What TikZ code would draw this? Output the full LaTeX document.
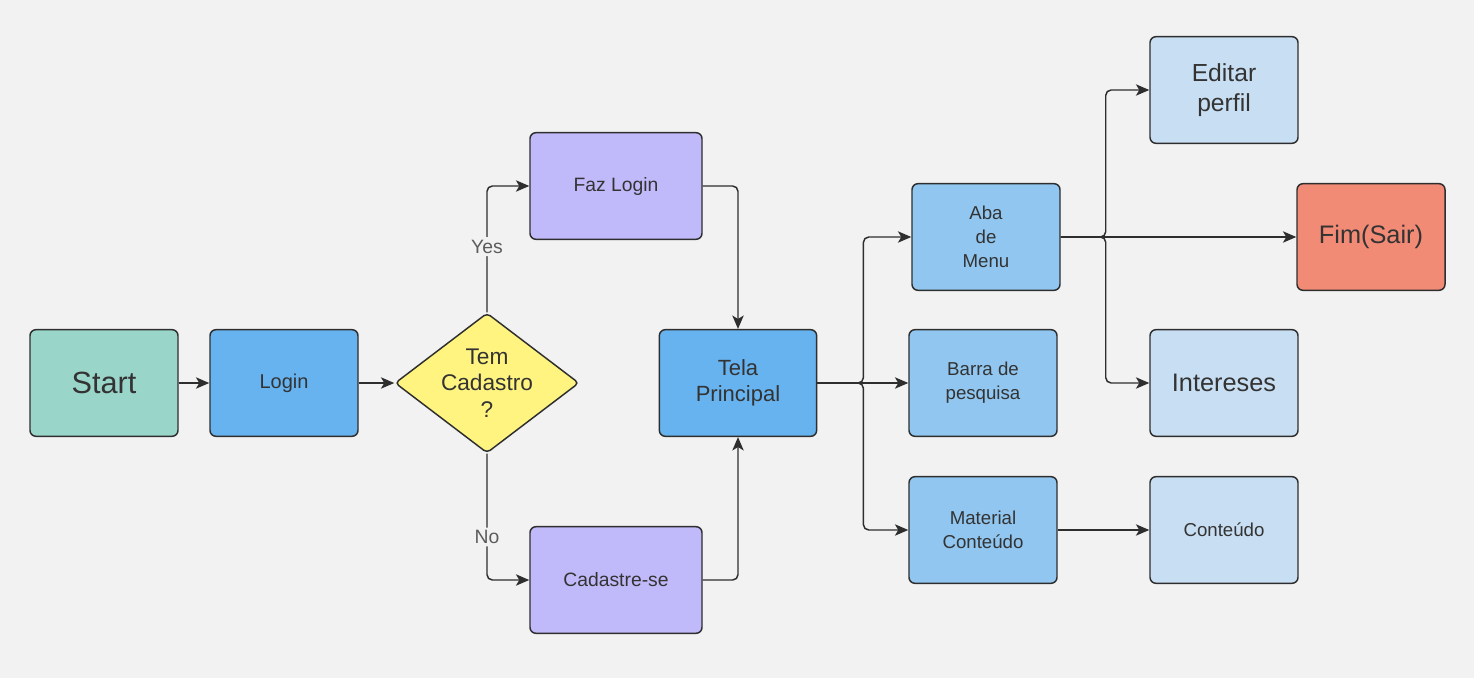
\documentclass[tikz,border=0pt]{standalone}
\usepackage{fontspec}
\setmainfont{Liberation Sans}
\usetikzlibrary{arrows.meta,shapes.geometric}
\definecolor{fundo}{HTML}{F2F2F2}
\definecolor{contorno}{HTML}{2E2E2E}
\definecolor{texto}{HTML}{333333}
\definecolor{verdeStart}{HTML}{9AD5CA}
\definecolor{azulForte}{HTML}{66B3EF}
\definecolor{azulMedio}{HTML}{90C6F0}
\definecolor{azulClaro}{HTML}{C8DEF2}
\definecolor{roxo}{HTML}{C0BAFA}
\definecolor{amarelo}{HTML}{FFF480}
\definecolor{salmao}{HTML}{F28B76}

\begin{document}
\begin{tikzpicture}[
			x=0.75pt, y=-0.75pt,
			caixa/.style={rectangle,rounded corners=4.5pt,draw=contorno,line width=1.1pt,
			minimum width=111pt,minimum height=80pt,align=center,text=texto,inner sep=2pt},
			decisao/.style={diamond,rounded corners=3pt,draw=contorno,line width=1.1pt,
			fill=amarelo,minimum width=138pt,minimum height=105pt,inner sep=0pt},
			liga/.style={-{Stealth[length=10pt,width=8.5pt,inset=2.5pt]},draw=contorno,line width=1.1pt,rounded corners=4pt},
			rotulo/.style={fill=fundo,text=texto!80,font=\fontsize{14.5}{17}\selectfont,inner sep=2pt}
			]
			\fill[fundo] (0,0) rectangle (1474,678);
			\useasboundingbox (0,0) rectangle (1474,678);
			% entrada
			\node[caixa, fill=verdeStart, font=\fontsize{23}{27}\selectfont] (start) at (104,383) {Start};
			\node[caixa, fill=azulForte, font=\fontsize{15}{18}\selectfont] (login) at (284,383) {Login};
			\node[decisao, label={[align=center,text=texto,font=\fontsize{17}{20}\selectfont]center:Tem\\Cadastro\\?}] (cadastro) at (487,383) {};
			\node[caixa, fill=roxo, minimum width=129pt, font=\fontsize{14.5}{18}\selectfont] (faz) at (616,186) {Faz Login};
			\node[caixa, fill=roxo, minimum width=129pt, font=\fontsize{14.5}{18}\selectfont] (cadastre) at (616,580) {Cadastre-se};
			\node[caixa, fill=azulForte, minimum width=118pt, font=\fontsize{16.5}{19.5}\selectfont] (tela) at (738,383) {Tela\\Principal};
			% menus
			\node[caixa, fill=azulMedio, font=\fontsize{14}{18}\selectfont] (aba) at (986,237) {Aba\\de\\Menu};
			\node[caixa, fill=azulMedio, font=\fontsize{14}{18}\selectfont] (barra) at (983,383) {Barra de\\pesquisa};
			\node[caixa, fill=azulMedio, font=\fontsize{14}{18}\selectfont] (material) at (983,530) {Material\\Conteúdo};
			\node[caixa, fill=azulClaro, font=\fontsize{18.5}{22.5}\selectfont] (editar) at (1224,90) {Editar\\perfil};
			\node[caixa, fill=salmao, font=\fontsize{19}{22}\selectfont] (fim) at (1371,237) {Fim(Sair)};
			\node[caixa, fill=azulClaro, font=\fontsize{19}{22}\selectfont] (intereses) at (1224,383) {Intereses};
			\node[caixa, fill=azulClaro, font=\fontsize{14}{18}\selectfont] (conteudo) at (1224,530) {Conteúdo};
			% ligacoes
			\draw[liga] (start) -- (login);
			\draw[liga] (login) -- (cadastro);
			\draw[liga] (cadastro.north) |- node[rotulo, pos=0.26] {Yes} (faz.west);
			\draw[liga] (cadastro.south) |- node[rotulo, pos=0.33] {No} (cadastre.west);
			\draw[liga] (faz.east) -| (tela.north);
			\draw[liga] (cadastre.east) -| (tela.south);
			\draw[liga] (tela.east) -- ++(46,0) |- (aba.west);
			\draw[liga] (tela.east) -- (barra.west);
			\draw[liga] (tela.east) -- ++(46,0) |- (material.west);
			\draw[liga] (aba.east) -- ++(45,0) |- (editar.west);
			\draw[liga] (aba.east) -- (fim.west);
			\draw[liga] (aba.east) -- ++(45,0) |- (intereses.west);
			\draw[liga] (material) -- (conteudo);
		\end{tikzpicture}
\end{document}
